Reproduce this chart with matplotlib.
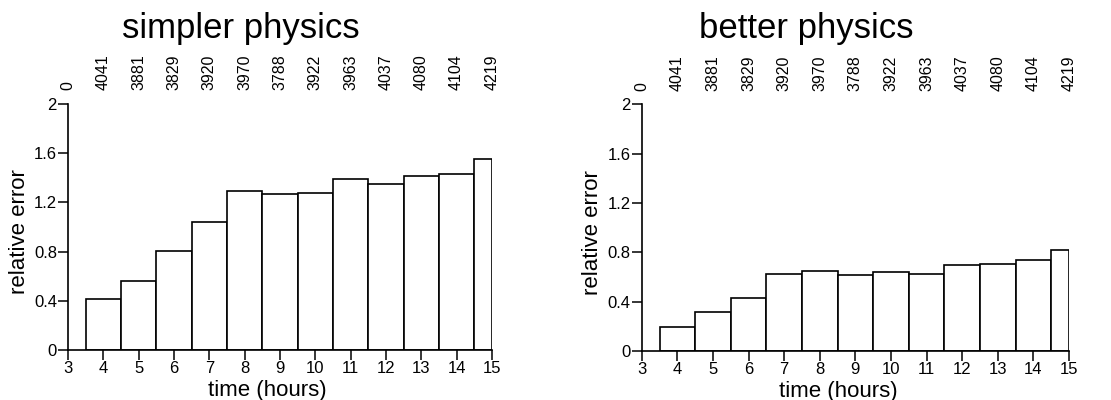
import numpy as np
import matplotlib.pyplot as plt

plt.rcParams['font.family'] = ['Liberation Sans', 'DejaVu Sans']

# bin edges in hours (last bin is a half bin)
edges = [3.5, 4.5, 5.5, 6.5, 7.5, 8.5, 9.5, 10.5, 11.5, 12.5, 13.5, 14.5, 15]

simpler = [0.415, 0.561, 0.805, 1.043, 1.293, 1.266, 1.274, 1.388, 1.347, 1.415, 1.433, 1.55]
better = [0.198, 0.32, 0.431, 0.627, 0.648, 0.618, 0.640, 0.627, 0.694, 0.705, 0.74, 0.816]

count_pos = list(range(3, 16))
counts = ["0", "4041", "3881", "3829", "3920", "3970", "3788",
          "3922", "3963", "4037", "4080", "4104", "4219"]

fig = plt.figure(figsize=(11.11, 4), dpi=100)


def panel(rect, vals, title, title_x, xlab_x):
    ax = fig.add_axes(rect)
    lefts = edges[:-1]
    widths = np.diff(edges)
    ax.bar(lefts, vals, width=widths, align='edge', color='white',
           edgecolor='black', linewidth=1.2)
    ax.set_xlim(3, 15)
    ax.set_ylim(0, 2)
    ax.set_xticks(range(3, 16))
    ax.set_yticks([0, 0.4, 0.8, 1.2, 1.6, 2])
    ax.set_yticklabels(["0", "0.4", "0.8", "1.2", "1.6", "2"])
    ax.tick_params(axis='both', labelsize=12, length=7, width=1.1, pad=1)
    for s in ['top', 'right']:
        ax.spines[s].set_visible(False)
    ax.spines['left'].set_linewidth(1.2)
    ax.spines['bottom'].set_linewidth(1.2)
    ax.set_xlabel("time (hours)", fontsize=16, x=xlab_x, labelpad=2.5)
    ax.set_ylabel("relative error", fontsize=16, y=0.48, labelpad=3)

    # sample counts along the top
    ax2 = ax.twiny()
    ax2.set_xlim(3, 15)
    ax2.set_xticks(count_pos)
    ax2.set_xticklabels(counts)
    ax2.tick_params(axis='x', length=0, labelsize=11.5, labelrotation=90, pad=10)
    for s in ax2.spines.values():
        s.set_visible(False)

    fig.text(title_x, 0.906, title, fontsize=25, ha='center', va='baseline')
    return ax


panel([0.0612, 0.125, 0.3816, 0.615], simpler, "simpler physics", 0.217, 0.469)
panel([0.5776, 0.1225, 0.3846, 0.6165], better, "better physics", 0.7255, 0.459)

fig.savefig("out.png", dpi=100)
